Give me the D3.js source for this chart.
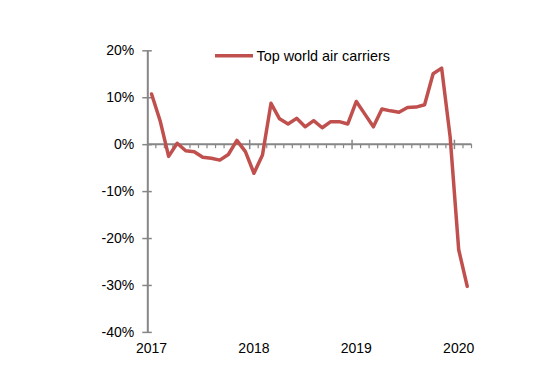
<!DOCTYPE html>
<html>
<head>
<meta charset="utf-8">
<script src="https://cdn.jsdelivr.net/npm/d3@7/dist/d3.min.js"></script>
<style>
  html, body { margin: 0; padding: 0; background: #fff; }
  svg { display: block; }
  text { font-family: Arial, "Liberation Sans", sans-serif; }
</style>
</head>
<body>
<svg id="chart" width="552" height="366"></svg>
<script>
// Monthly categories Jan 2017 - Feb 2020
const months = d3.range(38).map(i => new Date(2017, i, 1));
// Year-on-year growth (%)
const values = [10.7, 5.0, -2.6, 0.2, -1.4, -1.6, -2.8, -3.0, -3.4, -2.2, 0.8, -1.6,
                -6.2, -2.3, 8.7, 5.4, 4.3, 5.5, 3.7, 5.0, 3.5, 4.8, 4.8, 4.3,
                9.1, 6.4, 3.7, 7.5, 7.1, 6.8, 7.8, 7.9, 8.4, 15.0, 16.2, 1.5,
                -22.5, -30.3];
const yTicks = [-40, -30, -20, -10, 0, 10, 20];
const yearLabels = ["2017", "2018", "2019", "2020"];
const seriesName = "Top world air carriers";

const svg = d3.select("#chart");
const axisColor = "#868686";
const lineColor = "#C0504D";

const x = d3.scaleLinear().domain([0, 38]).range([147.3, 471.5]);
const y = d3.scaleLinear().domain([-40, 20]).range([331.9, 50.3]);

// Y axis
const yAxis = d3.axisLeft(y).tickValues(yTicks).tickSizeInner(5).tickSizeOuter(0)
  .tickPadding(8).tickFormat(d => d + "%");
const gy = svg.append("g").attr("transform", `translate(${x(0)},0)`).call(yAxis);
gy.select(".domain").attr("stroke", axisColor).attr("stroke-width", 2);
gy.selectAll(".tick line").attr("stroke", axisColor).attr("stroke-width", 1.5).attr("x1", 4.5);
gy.selectAll(".tick text").attr("fill", "#000").style("font-size", "14px");

// X axis at zero line (monthly ticks, yearly major ticks)
const gx = svg.append("g").attr("transform", `translate(0,${y(0)})`);
gx.append("line").attr("x1", x(0)).attr("x2", x(38)).attr("y1", 0).attr("y2", 0)
  .attr("stroke", axisColor).attr("stroke-width", 2);
gx.selectAll("line.tk").data(d3.range(1, 39)).join("line").attr("class", "tk")
  .attr("x1", d => x(d)).attr("x2", d => x(d))
  .attr("y1", d => d % 12 === 0 ? -4.5 : 0)
  .attr("y2", d => d % 12 === 0 ? 5 : 4)
  .attr("stroke", axisColor).attr("stroke-width", d => d % 12 === 0 ? 1.5 : 1.2);

// Year labels (at Jan of each year)
svg.selectAll("text.yr").data(yearLabels).join("text").attr("class", "yr")
  .attr("x", (d, i) => x(i * 12 + 0.5))
  .attr("y", 353)
  .attr("text-anchor", "middle")
  .style("font-size", "14px").attr("fill", "#000")
  .text(d => d);

// Line
const line = d3.line().x((d, i) => x(i + 0.5)).y(d => y(d));
svg.append("path").datum(values).attr("d", line)
  .attr("fill", "none").attr("stroke", lineColor).attr("stroke-width", 3.5)
  .attr("stroke-linejoin", "round").attr("stroke-linecap", "round");

// Legend
const lg = svg.append("g");
lg.append("line").attr("x1", 215).attr("x2", 253).attr("y1", 55.7).attr("y2", 55.7)
  .attr("stroke", lineColor).attr("stroke-width", 3.5);
lg.append("text").attr("x", 256.5).attr("y", 61).style("font-size", "14.4px")
  .attr("fill", "#000").text(seriesName);
</script>
</body>
</html>
